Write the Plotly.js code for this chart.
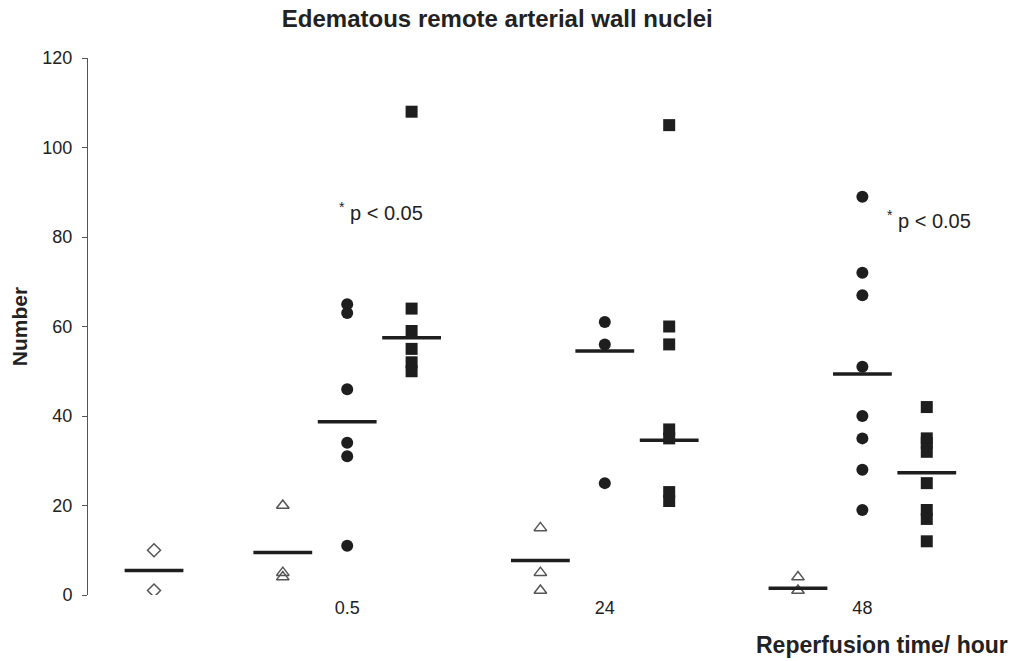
<!DOCTYPE html>
<html>
<head>
<meta charset="utf-8">
<script src="https://cdn.plot.ly/plotly-3.0.1.min.js"></script>
<style>html,body{margin:0;padding:0;background:#fff;}#chart{width:1019px;height:661px;}</style>
</head>
<body>
<div id="chart"></div>
<script>
// Group slot positions along the x axis (categorical slots)
const controlPos = 0;
const trianglePos = [2, 6, 10];
const circlePos = [3, 7, 11];
const squarePos = [4, 8, 12];
const timeLabels = ["0.5", "24", "48"];

// Values
const controlValues = [10, 1];
const triangleValues = [[20, 5, 4], [15, 5, 1], [4, 1]];
const circleValues = [[65, 63, 46, 34, 31, 11], [61, 56, 25], [89, 72, 67, 51, 40, 35, 28, 19]];
const squareValues = [[108, 64, 59, 55, 52, 50], [105, 60, 56, 37, 35, 23, 21], [42, 35, 34, 32, 25, 19, 17, 12]];

// Horizontal summary bars
const controlBar = 5.5;
const triangleBars = [9.5, 7.7, 1.5];
const circleBars = [38.7, 54.5, 49.4];
const squareBars = [57.5, 34.6, 27.3];

function flatten(posArr, valArr) {
  const xs = [], ys = [];
  valArr.forEach((vals, i) => vals.forEach(v => { xs.push(posArr[i]); ys.push(v); }));
  return {x: xs, y: ys};
}

const tri = flatten(trianglePos, triangleValues);
const cir = flatten(circlePos, circleValues);
const sq = flatten(squarePos, squareValues);

const traces = [
  {x: controlValues.map(() => controlPos), y: controlValues, mode: 'markers', type: 'scatter',
   marker: {symbol: 'diamond-open', size: 10, color: '#555', line: {width: 1.5, color: '#555'}}},
  {x: tri.x, y: tri.y, mode: 'markers', type: 'scatter',
   marker: {symbol: 'triangle-up-open', size: 11, color: '#555', line: {width: 1.5, color: '#555'}}},
  {x: cir.x, y: cir.y, mode: 'markers', type: 'scatter',
   marker: {symbol: 'circle', size: 12, color: '#1e1e1e'}},
  {x: sq.x, y: sq.y, mode: 'markers', type: 'scatter',
   marker: {symbol: 'square', size: 12, color: '#1e1e1e'}},
  {x: [controlPos].concat(trianglePos, circlePos, squarePos),
   y: [controlBar].concat(triangleBars, circleBars, squareBars),
   mode: 'markers', type: 'scatter',
   marker: {symbol: 'line-ew', size: 42, color: '#1e1e1e', line: {width: 3.5, color: '#1e1e1e'}}}
];

const layout = {
  width: 1019, height: 661,
  margin: {l: 88, r: 19, t: 58, b: 66},
  paper_bgcolor: '#fff', plot_bgcolor: '#fff',
  showlegend: false,
  font: {family: 'Liberation Sans, Arial, sans-serif', color: '#222', size: 18},
  title: {text: '<b>Edematous remote arterial wall nuclei</b>', x: 0.488, xanchor: 'center', y: 0.972, yanchor: 'middle',
          font: {size: 24, color: '#222'}},
  xaxis: {range: [-1.025, 13.137], showline: false, showgrid: false, zeroline: false, ticks: '',
          tickvals: circlePos, ticktext: timeLabels, tickfont: {size: 18, color: '#222'}},
  yaxis: {range: [0, 120], showline: true, linecolor: '#555', linewidth: 1, ticks: 'outside', ticklen: 5,
          tickcolor: '#555', showgrid: false, zeroline: false, dtick: 20, tickfont: {size: 18, color: '#222'},
          ticklabelstandoff: 6,
          title: {text: '<b>Number</b>', font: {size: 21, color: '#222'}, standoff: 9}},
  annotations: [
    {x: 2.84, y: 85.6, xanchor: 'left', text: '<sup>*</sup> p < 0.05', showarrow: false, font: {size: 20, color: '#222'}},
    {x: 11.35, y: 84, xanchor: 'left', text: '<sup>*</sup> p < 0.05', showarrow: false, font: {size: 20, color: '#222'}},
    {xref: 'paper', yref: 'paper', x: 1.011, y: -0.094, xanchor: 'right', yanchor: 'middle',
     text: '<b>Reperfusion time/ hour</b>', showarrow: false, font: {size: 23, color: '#222'}}
  ]
};

Plotly.newPlot('chart', traces, layout, {displayModeBar: false, staticPlot: true});
</script>
</body>
</html>
